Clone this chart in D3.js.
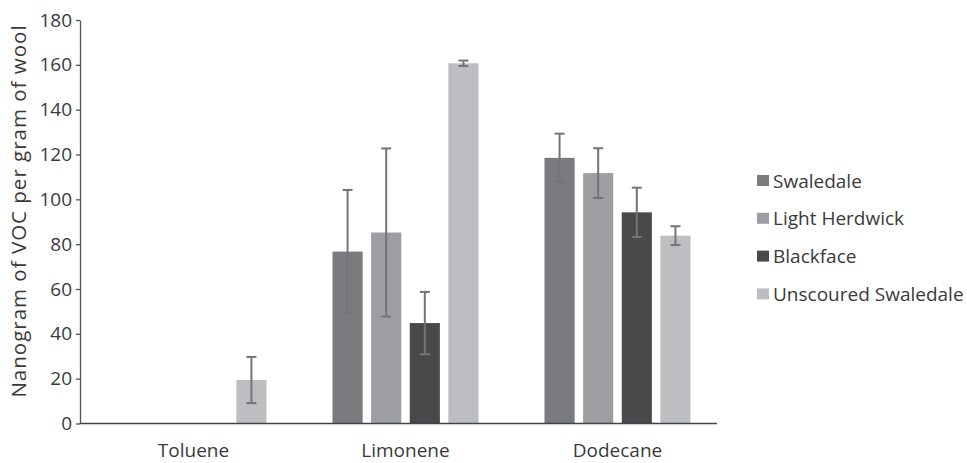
<!DOCTYPE html>
<html>
<head>
<meta charset="utf-8">
<script src="https://cdn.jsdelivr.net/npm/d3@7"></script>
<style>
  body { margin: 0; background: #fff; }
  text { font-family: "Open Sans", sans-serif; fill: #3a3a3a; }
</style>
</head>
<body>
<script>
// compounds on the x axis, breeds as series
var compounds = ["Toluene", "Limonene", "Dodecane"];
var breeds = ["Swaledale", "Light Herdwick", "Blackface", "Unscoured Swaledale"];
var colors = ["#7a7b7f", "#9d9ea2", "#48494b", "#bdbec2"];

// mean per breed, same order as compounds
var swaledale     = [0, 76.7, 118.5];
var lightHerdwick = [0, 85.2, 111.7];
var blackface     = [0, 44.8, 94.2];
var unscoured     = [19.4, 160.7, 83.8];

// error (half range) per breed
var swaledaleErr     = [0, 27.5, 10.8];
var lightHerdwickErr = [0, 37.5, 11.1];
var blackfaceErr     = [0, 13.9, 11.0];
var unscouredErr     = [10.3, 1.2, 4.2];

var yTicks = [0, 20, 40, 60, 80, 100, 120, 140, 160, 180];

var means = [swaledale, lightHerdwick, blackface, unscoured];
var errs = [swaledaleErr, lightHerdwickErr, blackfaceErr, unscouredErr];

var rows = [];
breeds.forEach(function(b, i){
    compounds.forEach(function(c, j){
        if (means[i][j] > 0) rows.push({breed: b, compound: c, v: means[i][j], e: errs[i][j], k: i});
    });
});

var W = 967, H = 463;
var svg = d3.select("body").append("svg").attr("width", W).attr("height", H);

var y = d3.scaleLinear().domain([0, 180]).range([423.5, 20]);
var x = d3.scaleBand().domain(compounds).range([87.5, 723.5]);
var xIn = d3.scaleBand().domain(breeds).range([-73, 73]).paddingInner(0.22);

// bars
svg.append("g").selectAll("rect").data(rows).enter().append("rect")
    .attr("x", function(d){ return x(d.compound) + x.bandwidth() / 2 + xIn(d.breed); })
    .attr("y", function(d){ return y(d.v); })
    .attr("width", xIn.bandwidth())
    .attr("height", function(d){ return y(0) - y(d.v); })
    .style("fill", function(d){ return colors[d.k]; });

// error bars
var eg = svg.append("g").style("stroke", "#737478").style("stroke-width", 2);
rows.forEach(function(d){
    var cx = x(d.compound) + x.bandwidth() / 2 + xIn(d.breed) + xIn.bandwidth() / 2;
    eg.append("line").attr("x1", cx).attr("x2", cx).attr("y1", y(d.v + d.e)).attr("y2", y(d.v - d.e));
    eg.append("line").attr("x1", cx - 5).attr("x2", cx + 5).attr("y1", y(d.v + d.e)).attr("y2", y(d.v + d.e));
    eg.append("line").attr("x1", cx - 5).attr("x2", cx + 5).attr("y1", y(d.v - d.e)).attr("y2", y(d.v - d.e));
});

// y axis
var yAxis = svg.append("g").attr("transform", "translate(80,0)")
    .call(d3.axisLeft(y).tickValues(yTicks).tickSize(4).tickSizeOuter(0).tickPadding(4));
yAxis.select(".domain").style("stroke", "#555").style("stroke-width", 1.3);
yAxis.selectAll(".tick line").style("stroke", "#555").style("stroke-width", 1.3);
yAxis.selectAll("text").style("font-size", "19px").style("font-family", "Open Sans").style("fill", "#3a3a3a");

// x axis line
svg.append("line").attr("x1", 79.5).attr("x2", 717).attr("y1", y(0)).attr("y2", y(0))
    .style("stroke", "#444").style("stroke-width", 1.5);

svg.append("g").selectAll("text").data(compounds).enter().append("text")
    .attr("x", function(d){ return x(d) + x.bandwidth() / 2; })
    .attr("y", 457)
    .attr("text-anchor", "middle")
    .style("font-size", "19px")
    .text(function(d){ return d; });

svg.append("text")
    .attr("transform", "translate(26,211) rotate(-90)")
    .attr("text-anchor", "middle")
    .style("font-size", "20.5px")
    .style("letter-spacing", "1px")
    .text("Nanogram of VOC per gram of wool");

// legend
var lg = svg.append("g").selectAll("g").data(breeds).enter().append("g")
    .attr("transform", function(d, i){ return "translate(757," + (180.5 + i * 37.8) + ")"; });
lg.append("rect").attr("x", 0).attr("y", -5.5).attr("width", 12).attr("height", 11)
    .style("fill", function(d, i){ return colors[i]; });
lg.append("text").attr("x", 16).attr("y", 7).style("font-size", "19px").text(function(d){ return d; });
</script>
</body>
</html>
